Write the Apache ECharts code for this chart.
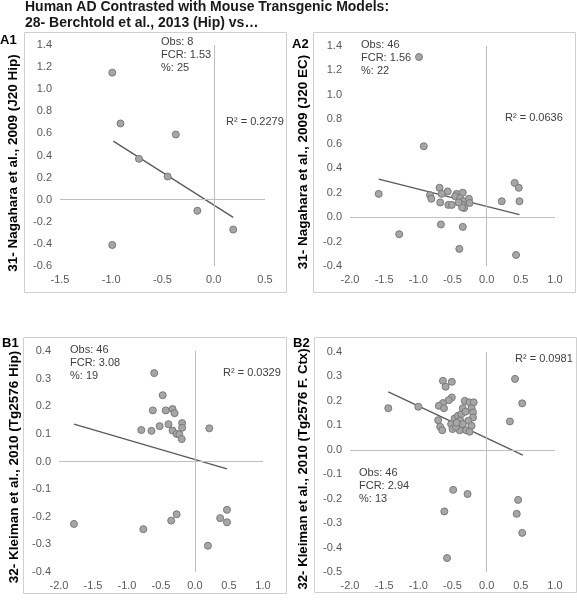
<!DOCTYPE html>
<html><head><meta charset="utf-8">
<script src="https://cdn.jsdelivr.net/npm/echarts@6/dist/echarts.min.js"></script>
<style>html,body{margin:0;padding:0;background:#fff}#c{width:577px;height:600px}</style>
</head><body><div id="c"></div>
<script>
// ---- Data ----
const a1X = [-0.99, -0.91, -0.73, -0.37, -0.45, -0.16, 0.19, -0.99];
const a1Y = [1.15, 0.69, 0.37, 0.59, 0.21, -0.10, -0.27, -0.41];
const a1TrendX = [-0.98, 0.19];
const a1TrendY = [0.53, -0.16];

const a2X = [-0.99, -0.92, -1.58, -1.28, -0.69, -0.57, -0.66, -0.83, -0.81, -0.68, -0.56, -0.51, -0.44, -0.46, -0.35, -0.39, -0.34, -0.26, -0.25, -0.35, -0.33, -0.36, -0.41, -0.67, -0.35, -0.40, 0.22, 0.41, 0.47, 0.48, 0.43];
const a2Y = [1.31, 0.58, 0.19, -0.14, 0.24, 0.21, 0.19, 0.18, 0.15, 0.12, 0.10, 0.10, 0.19, 0.17, 0.20, 0.155, 0.13, 0.15, 0.115, 0.10, 0.075, 0.08, 0.12, -0.06, -0.08, -0.26, 0.13, 0.28, 0.24, 0.13, -0.31];
const a2TrendX = [-1.58, 0.48];
const a2TrendY = [0.31, 0.02];

const b1X = [-0.60, -0.475, -0.62, -0.43, -0.33, -0.30, -0.79, -0.64, -0.52, -0.39, -0.33, -0.27, -0.23, -0.19, -0.19, -0.195, 0.21, -1.78, -0.76, -0.35, -0.27, 0.47, 0.37, 0.47, 0.19];
const b1Y = [0.32, 0.24, 0.185, 0.185, 0.19, 0.175, 0.114, 0.111, 0.128, 0.135, 0.112, 0.10, 0.098, 0.139, 0.122, 0.081, 0.12, -0.226, -0.245, -0.214, -0.191, -0.175, -0.205, -0.22, -0.305];
const b1TrendX = [-1.78, 0.47];
const b1TrendY = [0.135, -0.027];

const b2X = [-1.44, -1.0, 0.415, 0.52, 0.34, -0.49, -0.28, -0.62, 0.46, 0.44, 0.52, -0.58,
  -0.64, -0.51, -0.60, -0.51, -0.556, -0.64, -0.70, -0.625, -0.71, -0.68, -0.65, -0.52, -0.50, -0.47, -0.42, -0.37, -0.32, -0.25, -0.19, -0.22, -0.35, -0.31, -0.20, -0.20, -0.27, -0.385, -0.22, -0.35, -0.395, -0.30, -0.25, -0.45, -0.44];
const b2Y = [0.17, 0.176, 0.29, 0.19, 0.116, -0.164, -0.181, -0.252, -0.205, -0.262, -0.34, -0.443,
  0.282, 0.278, 0.258, 0.214, 0.203, 0.191, 0.18, 0.17, 0.121, 0.094, 0.08, 0.105, 0.085, 0.128, 0.139, 0.146, 0.20, 0.194, 0.194, 0.17, 0.17, 0.156, 0.153, 0.132, 0.119, 0.119, 0.098, 0.105, 0.08, 0.08, 0.074, 0.094, 0.11];
const b2TrendX = [-1.44, 0.53];
const b2TrendY = [0.237, -0.022];

const titleLines = ['Human AD Contrasted with Mouse Transgenic Models:', '28- Berchtold et al., 2013 (Hip) vs\u2026'];
const panelLabels = ['A1', 'A2', 'B1', 'B2'];
const yTitles = ['31- Nagahara et al., 2009 (J20 Hip)', '31- Nagahara et al., 2009 (J20 EC)', '32- Kleiman et al., 2010 (Tg2576 Hip)', '32- Kleiman et al., 2010 (Tg2576 F. Ctx)'];
const statTexts = ['Obs: 8\nFCR: 1.53\n%: 25', 'Obs: 46\nFCR: 1.56\n%: 22', 'Obs: 46\nFCR: 3.08\n%: 19', 'Obs: 46\nFCR: 2.94\n%: 13'];
const r2Texts = ['R\u00b2 = 0.2279', 'R\u00b2 = 0.0636', 'R\u00b2 = 0.0329', 'R\u00b2 = 0.0981'];
const xRanges = [[-1.5, 0.5], [-2, 1], [-2, 1], [-2, 1]];
const yRanges = [[-0.6, 1.4, 0.2], [-0.4, 1.4, 0.2], [-0.4, 0.4, 0.1], [-0.5, 0.4, 0.1]];

// ---- Layout ----
const FONT = '"Liberation Sans", Arial, sans-serif';
const grids = [
  {left: 60, top: 45, width: 205, height: 221},
  {left: 350, top: 46, width: 205, height: 220},
  {left: 59, top: 351, width: 204, height: 221},
  {left: 350, top: 352, width: 205, height: 220}
];
const frames = [[24, 32, 262, 260], [313, 32, 262, 260], [23, 337, 263, 256], [314, 337, 262, 255]];
const labelPos = [[0, 40], [292, 44], [2, 343], [293, 343]];
const yTitlePos = [[13, 163], [303, 162], [14, 467], [303, 469]];
const yTitleSize = [13.5, 13.5, 13.5, 13.2];
const statPos = [[161, 42], [361, 45], [70, 350], [359, 473]];
const r2Pos = [[226, 122], [505, 118], [223, 373], [515, 359]];

const sets = [[a1X, a1Y, a1TrendX, a1TrendY], [a2X, a2Y, a2TrendX, a2TrendY], [b1X, b1Y, b1TrendX, b1TrendY], [b2X, b2Y, b2TrendX, b2TrendY]];

const xAxis = [], yAxis = [], series = [];
sets.forEach((s, i) => {
  xAxis.push({gridIndex: i, type: 'value', min: xRanges[i][0], max: xRanges[i][1], interval: 0.5,
    axisLine: {show: false}, axisTick: {show: false}, splitLine: {show: false},
    axisLabel: {color: '#595959', fontSize: 11, fontFamily: FONT, margin: 8, formatter: v => v.toFixed(1)}});
  yAxis.push({gridIndex: i, type: 'value', min: yRanges[i][0], max: yRanges[i][1], interval: yRanges[i][2],
    axisLine: {show: false}, axisTick: {show: false}, splitLine: {show: false},
    axisLabel: {color: '#595959', fontSize: 11, fontFamily: FONT, margin: 8, formatter: v => v.toFixed(1)}});
  series.push({type: 'line', xAxisIndex: i, yAxisIndex: i, data: s[2].map((x, k) => [x, s[3][k]]),
    showSymbol: false, symbol: 'none', lineStyle: {color: '#595959', width: 1.3}, z: 3, silent: true,
    markLine: {silent: true, symbol: ['none', 'none'], label: {show: false},
      lineStyle: {color: '#bfbfbf', width: 1, type: 'solid'}, data: [{xAxis: 0}, {yAxis: 0}]}});
  series.push({type: 'scatter', xAxisIndex: i, yAxisIndex: i, data: s[0].map((x, k) => [x, s[1][k]]),
    symbolSize: 7, itemStyle: {color: '#a6a6a6', borderColor: '#7a7a7a', borderWidth: 1, opacity: 1}, z: 4});
});

const graphic = [];
frames.forEach(f => graphic.push({type: 'rect', shape: {x: f[0] + 0.5, y: f[1] + 0.5, width: f[2], height: f[3]},
  style: {fill: 'none', stroke: '#d0d0d0', lineWidth: 1}, silent: true}));
titleLines.forEach((t, k) => graphic.push({type: 'text', x: 25, y: 7 + k * 16,
  style: {text: t, fill: '#1a1a1a', font: 'bold 14px ' + FONT, textAlign: 'left', textVerticalAlign: 'middle', verticalAlign: 'middle'}}));
panelLabels.forEach((t, i) => graphic.push({type: 'text', x: labelPos[i][0], y: labelPos[i][1],
  style: {text: t, fill: '#000', font: 'bold 13px ' + FONT, textAlign: 'left', textVerticalAlign: 'middle', verticalAlign: 'middle'}}));
yTitles.forEach((t, i) => graphic.push({type: 'text', x: yTitlePos[i][0], y: yTitlePos[i][1], rotation: Math.PI / 2,
  style: {text: t, fill: '#000', font: 'bold ' + yTitleSize[i] + 'px ' + FONT, textAlign: 'center', align: 'center', textVerticalAlign: 'middle', verticalAlign: 'middle'}}));
statTexts.forEach((t, i) => graphic.push({type: 'text', x: statPos[i][0], y: statPos[i][1] - 6,
  style: {text: t, fill: '#404040', font: '11px ' + FONT, lineHeight: 12.8, textAlign: 'left', textVerticalAlign: 'top', verticalAlign: 'top'}}));
r2Texts.forEach((t, i) => graphic.push({type: 'text', x: r2Pos[i][0], y: r2Pos[i][1],
  style: {text: t, fill: '#404040', font: '11px ' + FONT, textAlign: 'left', textVerticalAlign: 'middle', verticalAlign: 'middle'}}));

const chart = echarts.init(document.getElementById('c'), null, {renderer: 'canvas'});
chart.setOption({animation: false, backgroundColor: '#fff', grid: grids, xAxis, yAxis, series, graphic});
</script></body></html>
